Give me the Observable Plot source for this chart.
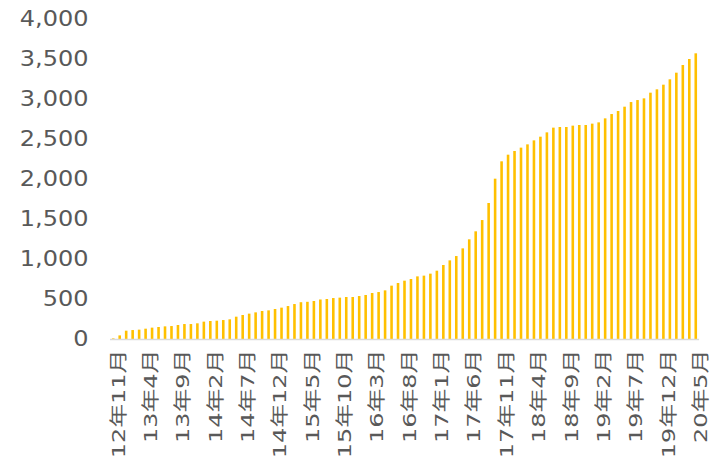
<!DOCTYPE html>
<html>
<head>
<meta charset="utf-8">
<script src="https://cdn.jsdelivr.net/npm/d3@7"></script>
<script src="https://cdn.jsdelivr.net/npm/@observablehq/plot@0.6"></script>
<style>
  html, body { margin: 0; padding: 0; background: #fff; }
</style>
</head>
<body>
<div id="chart"></div>
<script>
const months = [
  "12年11月","12年12月",
  "13年1月","13年2月","13年3月","13年4月","13年5月","13年6月","13年7月","13年8月","13年9月","13年10月","13年11月","13年12月",
  "14年1月","14年2月","14年3月","14年4月","14年5月","14年6月","14年7月","14年8月","14年9月","14年10月","14年11月","14年12月",
  "15年1月","15年2月","15年3月","15年4月","15年5月","15年6月","15年7月","15年8月","15年9月","15年10月","15年11月","15年12月",
  "16年1月","16年2月","16年3月","16年4月","16年5月","16年6月","16年7月","16年8月","16年9月","16年10月","16年11月","16年12月",
  "17年1月","17年2月","17年3月","17年4月","17年5月","17年6月","17年7月","17年8月","17年9月","17年10月","17年11月","17年12月",
  "18年1月","18年2月","18年3月","18年4月","18年5月","18年6月","18年7月","18年8月","18年9月","18年10月","18年11月","18年12月",
  "19年1月","19年2月","19年3月","19年4月","19年5月","19年6月","19年7月","19年8月","19年9月","19年10月","19年11月","19年12月",
  "20年1月","20年2月","20年3月","20年4月","20年5月"
];
const values = [
  8, 45, 104, 112, 117, 129, 142, 150, 158, 162,
  175, 187, 187, 196, 217, 225, 229, 237, 246, 279,
  300, 317, 333, 350, 358, 375, 392, 412, 437, 460,
  465, 475, 494, 500, 512, 517, 525, 525, 537, 550,
  575, 587, 608, 667, 700, 729, 750, 783, 792, 817,
  854, 925, 983, 1037, 1133, 1246, 1346, 1487, 1700, 2004,
  2221, 2304, 2350, 2392, 2433, 2483, 2529, 2583, 2642, 2650,
  2650, 2667, 2675, 2675, 2692, 2708, 2758, 2812, 2850, 2904,
  2962, 2987, 3008, 3079, 3121, 3179, 3246, 3329, 3425, 3500,
  3571
];
const xTickLabels = ["12年11月","13年4月","13年9月","14年2月","14年7月","14年12月","15年5月","15年10月","16年3月","16年8月","17年1月","17年6月","17年11月","18年4月","18年9月","19年2月","19年7月","19年12月","20年5月"];
const yTicks = [0, 500, 1000, 1500, 2000, 2500, 3000, 3500, 4000];

const data = months.map((m, i) => ({month: m, value: values[i]}));

const chart = Plot.plot({
  width: 724,
  height: 464,
  marginLeft: 110,
  marginRight: 25,
  marginTop: 19,
  marginBottom: 125,
  style: {fontFamily: "'DejaVu Sans', 'Noto Sans CJK SC', sans-serif", color: "#595959", background: "#fff"},
  x: {domain: months, paddingInner: 0.6, paddingOuter: 0.3},
  y: {domain: [0, 4000]},
  marks: [
    Plot.axisY({ticks: yTicks, tickSize: 0, tickPadding: 22, tickFormat: d3.format(","), fontSize: 20.5, fill: "#595959", label: null}),
    Plot.axisX({ticks: xTickLabels, tickSize: 0, tickPadding: 10, tickRotate: -90, dx: 5, fontSize: 18, fill: "#595959", label: null}),
    Plot.barY(data, {x: "month", y: "value", fill: "#FFC000"}),
    Plot.ruleY([0], {stroke: "#d9d9d9", strokeWidth: 1.5})
  ]
});
document.getElementById("chart").appendChild(chart);

// Widen the tick-label glyphs along the text direction, as in the reference
function stretch(selector, s) {
  chart.querySelectorAll(selector).forEach((t) => {
    const len = t.getComputedTextLength();
    if (len > 0) {
      t.setAttribute("textLength", (len * s).toFixed(2));
      t.setAttribute("lengthAdjust", "spacingAndGlyphs");
    }
  });
}
stretch('g[aria-label="y-axis tick label"] text', 1.17);
stretch('g[aria-label="x-axis tick label"] text', 1.33);
</script>
</body>
</html>
